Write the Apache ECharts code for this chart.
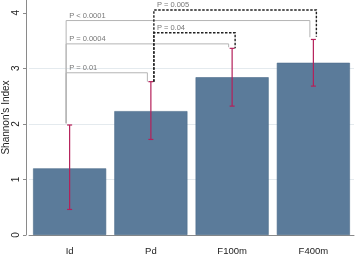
<!DOCTYPE html>
<html>
<head>
<meta charset="utf-8">
<script src="https://cdn.jsdelivr.net/npm/echarts@6/dist/echarts.min.js"></script>
<style>
  html, body { margin: 0; padding: 0; background: #fff; }
  #chart { width: 358px; height: 257px; }
</style>
</head>
<body>
<div id="chart"></div>
<script>
// data
const categories = ['Id', 'Pd', 'F100m', 'F400m'];
const means = [1.20, 2.23, 2.84, 3.10];
const lower = [0.46, 1.72, 2.32, 2.68];
const upper = [1.98, 2.76, 3.36, 3.52];
const yTicks = [0, 1, 2, 3, 4];

// comparison brackets: from group, to group, bracket height, start y, end y
const bracketFrom = [0, 0, 0, 1, 1];
const bracketTo = [1, 2, 3, 3, 2];
const bracketHeight = [2.92, 3.44, 3.86, 4.05, 3.64];
const bracketStart = [2.01, 2.01, 2.01, 2.76, 2.76];
const bracketEnd = [2.76, 3.38, 3.56, 3.57, 3.36];
const bracketLabels = ['P = 0.01', 'P = 0.0004', 'P < 0.0001', 'P = 0.005', 'P = 0.04'];
const bracketDashed = [false, false, false, true, true];

const FONT = '"Liberation Sans", Arial, sans-serif';

const chart = echarts.init(document.getElementById('chart'));

const errData = categories.map((c, i) => [i, lower[i], upper[i]]);
const bracketData = bracketFrom.map((f, i) => [f, bracketTo[i], bracketHeight[i], bracketStart[i], bracketEnd[i], i]);

chart.setOption({
  animation: false,
  backgroundColor: '#fff',
  grid: { left: 29, right: 4, top: 0, bottom: 22, outerBoundsMode: 'none', containLabel: false },
  xAxis: {
    type: 'category',
    data: categories,
    offset: 6,
    axisLine: { lineStyle: { color: '#8a8a8a', width: 1 } },
    axisTick: { alignWithLabel: true, length: 3, lineStyle: { color: '#8a8a8a' } },
    axisLabel: { color: '#222', fontFamily: FONT, fontSize: 9.5, margin: 5 }
  },
  yAxis: {
    type: 'value',
    min: 0,
    max: 4.23,
    interval: 1,
    offset: 3,
    name: "Shannon's Index",
    nameLocation: 'middle',
    nameGap: 15,
    nameMoveOverlap: false,
    nameTextStyle: { color: '#222', fontFamily: FONT, fontSize: 10 },
    axisLine: { show: true, lineStyle: { color: '#8a8a8a', width: 1 } },
    axisTick: { show: true, length: 3, customValues: yTicks, lineStyle: { color: '#8a8a8a' } },
    axisLabel: { customValues: yTicks, rotate: 90, color: '#222', fontFamily: FONT, fontSize: 10, margin: 5 },
    splitLine: { show: true, showMaxLine: false, lineStyle: { color: '#e4eaee', width: 1 } }
  },
  series: [
    {
      type: 'bar',
      data: means,
      barCategoryGap: '10%',
      itemStyle: { color: '#5b7b9a', borderColor: '#4d6d8c', borderWidth: 0.6 },
      z: 2
    },
    {
      type: 'custom',
      data: errData,
      z: 3,
      renderItem: function (params, api) {
        const x = api.value(0);
        const lo = api.coord([x, api.value(1)]);
        const hi = api.coord([x, api.value(2)]);
        const w = 2.5;
        const style = { stroke: '#b5205a', lineWidth: 1.2 };
        return {
          type: 'group',
          children: [
            { type: 'line', shape: { x1: lo[0], y1: lo[1], x2: hi[0], y2: hi[1] }, style },
            { type: 'line', shape: { x1: lo[0] - w, y1: lo[1], x2: lo[0] + w, y2: lo[1] }, style },
            { type: 'line', shape: { x1: hi[0] - w, y1: hi[1], x2: hi[0] + w, y2: hi[1] }, style }
          ]
        };
      }
    },
    {
      type: 'custom',
      data: bracketData,
      z: 4,
      clip: false,
      renderItem: function (params, api) {
        const idx = api.value(5);
        const dashed = bracketDashed[idx];
        const off = dashed ? 3 : -3.5;
        const a = api.coord([api.value(0), api.value(3)]);
        const top = api.coord([api.value(0), api.value(2)]);
        const b = api.coord([api.value(1), api.value(4)]);
        const x1 = a[0] + off, x2 = b[0] + off;
        const points = [[x1, a[1]], [x1, top[1]], [x2, top[1]], [x2, b[1]]];
        return {
          type: 'group',
          children: [
            {
              type: 'polyline',
              shape: { points },
              style: dashed
                ? { stroke: '#222', lineWidth: 1.4, lineDash: [2.5, 1.5], fill: null }
                : { stroke: '#b4b4b4', lineWidth: 1, fill: null }
            },
            {
              type: 'text',
              style: {
                text: bracketLabels[idx],
                x: x1 + 3,
                y: top[1] - 1,
                textAlign: 'left',
                textVerticalAlign: 'bottom',
                fill: '#777',
                font: '7.5px ' + FONT
              }
            }
          ]
        };
      }
    }
  ]
});
</script>
</body>
</html>
